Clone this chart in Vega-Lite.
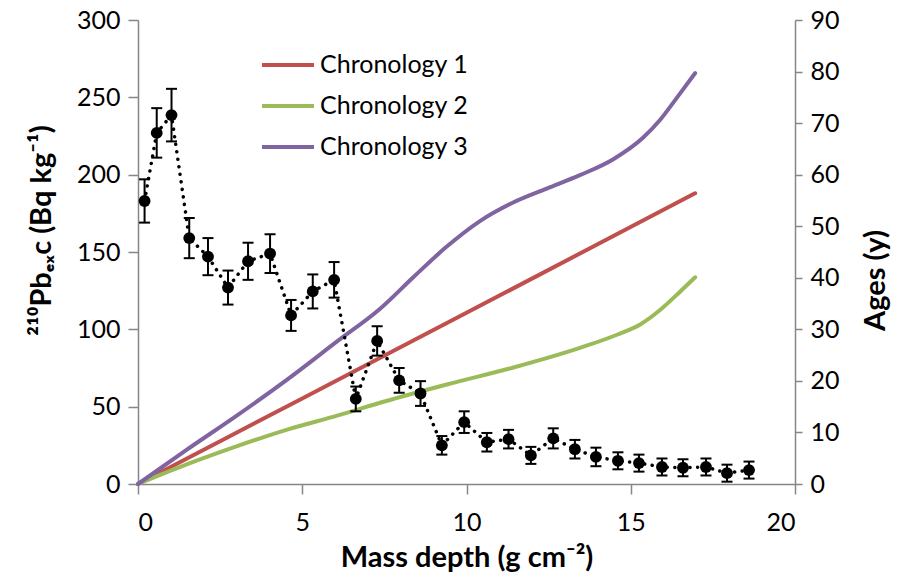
{
  "$schema": "https://vega.github.io/schema/vega-lite/v6.json",
  "width": 657,
  "height": 464,
  "autosize": {"type": "none"},
  "padding": {"left": 138, "top": 20, "right": 110, "bottom": 100},
  "background": "white",
  "config": {
    "view": {"stroke": null},
    "font": "Lato",
    "axis": {"grid": false, "domainColor": "#868686", "tickColor": "#868686", "domainWidth": 1.5, "tickWidth": 1.5, "labelColor": "black", "titleColor": "black", "labelFont": "Lato", "titleFont": "Lato", "labelFontSize": 25, "titleFontSize": 29, "titleFontWeight": "bold", "tickSize": 10}
  },
  "datasets": {
    "pb": [
      {"x": 0.2, "pb": 183, "lo": 169, "hi": 197},
      {"x": 0.57, "pb": 227, "lo": 211, "hi": 243},
      {"x": 1.02, "pb": 238.5, "lo": 221.5, "hi": 255.5},
      {"x": 1.56, "pb": 159, "lo": 146, "hi": 172},
      {"x": 2.13, "pb": 147, "lo": 135, "hi": 159},
      {"x": 2.74, "pb": 127, "lo": 116, "hi": 138},
      {"x": 3.35, "pb": 144, "lo": 132, "hi": 156},
      {"x": 4.02, "pb": 149, "lo": 136.5, "hi": 161.5},
      {"x": 4.66, "pb": 109, "lo": 99, "hi": 119},
      {"x": 5.32, "pb": 124.5, "lo": 113.5, "hi": 135.5},
      {"x": 5.97, "pb": 132, "lo": 120.5, "hi": 143.5},
      {"x": 6.63, "pb": 55, "lo": 47, "hi": 63},
      {"x": 7.28, "pb": 92.5, "lo": 83, "hi": 102},
      {"x": 7.95, "pb": 67, "lo": 59, "hi": 75},
      {"x": 8.6, "pb": 58.5, "lo": 50.5, "hi": 66.5},
      {"x": 9.25, "pb": 25, "lo": 19, "hi": 31},
      {"x": 9.93, "pb": 40, "lo": 33, "hi": 47},
      {"x": 10.62, "pb": 27, "lo": 21, "hi": 33},
      {"x": 11.28, "pb": 29, "lo": 23, "hi": 35},
      {"x": 11.96, "pb": 18.5, "lo": 13, "hi": 24},
      {"x": 12.64, "pb": 29.5, "lo": 23, "hi": 36},
      {"x": 13.3, "pb": 22.5, "lo": 16.5, "hi": 28.5},
      {"x": 13.94, "pb": 17.5, "lo": 11.5, "hi": 23.5},
      {"x": 14.61, "pb": 15, "lo": 9.5, "hi": 20.5},
      {"x": 15.25, "pb": 13.5, "lo": 8, "hi": 19},
      {"x": 15.95, "pb": 11, "lo": 5.5, "hi": 16.5},
      {"x": 16.59, "pb": 10.5, "lo": 5, "hi": 16},
      {"x": 17.29, "pb": 11, "lo": 5.5, "hi": 16.5},
      {"x": 17.93, "pb": 7, "lo": 1.5, "hi": 12.5},
      {"x": 18.6, "pb": 9, "lo": 3.5, "hi": 14.5}
    ],
    "chron": [
      {"x": 0, "age": 0, "c": "Chronology 1"},
      {"x": 5, "age": 16.6, "c": "Chronology 1"},
      {"x": 10, "age": 33.2, "c": "Chronology 1"},
      {"x": 16.96, "age": 56.4, "c": "Chronology 1"},
      {"x": 0, "age": 0, "c": "Chronology 2"},
      {"x": 1.52, "age": 3.9, "c": "Chronology 2"},
      {"x": 3.04, "age": 7.4, "c": "Chronology 2"},
      {"x": 4.57, "age": 10.6, "c": "Chronology 2"},
      {"x": 6.09, "age": 13.3, "c": "Chronology 2"},
      {"x": 7.5, "age": 16.0, "c": "Chronology 2"},
      {"x": 9.4, "age": 19.3, "c": "Chronology 2"},
      {"x": 11.43, "age": 22.6, "c": "Chronology 2"},
      {"x": 13.45, "age": 26.4, "c": "Chronology 2"},
      {"x": 14.6, "age": 29.0, "c": "Chronology 2"},
      {"x": 15.3, "age": 31.0, "c": "Chronology 2"},
      {"x": 15.9, "age": 33.8, "c": "Chronology 2"},
      {"x": 16.5, "age": 37.3, "c": "Chronology 2"},
      {"x": 16.96, "age": 40.1, "c": "Chronology 2"},
      {"x": 0, "age": 0, "c": "Chronology 3"},
      {"x": 1.52, "age": 6.8, "c": "Chronology 3"},
      {"x": 3.04, "age": 13.4, "c": "Chronology 3"},
      {"x": 4.57, "age": 20.4, "c": "Chronology 3"},
      {"x": 6.09, "age": 27.8, "c": "Chronology 3"},
      {"x": 7.37, "age": 34.0, "c": "Chronology 3"},
      {"x": 8.38, "age": 40.1, "c": "Chronology 3"},
      {"x": 9.39, "age": 46.0, "c": "Chronology 3"},
      {"x": 10.41, "age": 51.0, "c": "Chronology 3"},
      {"x": 11.42, "age": 54.6, "c": "Chronology 3"},
      {"x": 12.44, "age": 57.3, "c": "Chronology 3"},
      {"x": 13.45, "age": 59.9, "c": "Chronology 3"},
      {"x": 14.47, "age": 63.0, "c": "Chronology 3"},
      {"x": 15.38, "age": 67.2, "c": "Chronology 3"},
      {"x": 15.89, "age": 70.6, "c": "Chronology 3"},
      {"x": 16.39, "age": 74.8, "c": "Chronology 3"},
      {"x": 16.96, "age": 79.7, "c": "Chronology 3"}
    ]
  },
  "layer": [
    {
      "data": {"name": "chron"},
      "mark": {"type": "line", "strokeWidth": 4, "interpolate": "monotone", "strokeCap": "round"},
      "encoding": {
        "x": {"field": "x", "type": "quantitative", "scale": {"domain": [0, 20]}, "axis": {"values": [0, 5, 10, 15, 20], "title": "Mass depth (g cm⁻²)", "labelPadding": 16, "titlePadding": 8}},
        "y": {"field": "age", "type": "quantitative", "scale": {"domain": [0, 90]}, "axis": {"orient": "right", "values": [0, 10, 20, 30, 40, 50, 60, 70, 80, 90], "title": "Ages (y)", "titleAngle": 270, "titleBaseline": "top", "titleY": 260, "tickSize": 7, "labelPadding": 8, "titlePadding": 22}},
        "color": {"field": "c", "type": "nominal", "scale": {"domain": ["Chronology 1", "Chronology 2", "Chronology 3"], "range": ["#C0504D", "#9BBB59", "#8064A2"]}, "legend": {"title": null, "orient": "none", "legendX": 122, "legendY": 17, "symbolType": "stroke", "symbolStrokeWidth": 4, "symbolSize": 2700, "labelFontSize": 25, "labelFont": "Lato", "labelColor": "black", "labelOffset": 4, "rowPadding": -17}}
      }
    },
    {
      "data": {"name": "pb"},
      "encoding": {
        "x": {"field": "x", "type": "quantitative", "scale": {"domain": [0, 20]}, "axis": {"values": [0, 5, 10, 15, 20], "title": "Mass depth (g cm⁻²)", "labelPadding": 16, "titlePadding": 8}}
      },
      "layer": [
        {
          "mark": {"type": "line", "color": "black", "strokeWidth": 3.5, "strokeDash": [0.1, 7.5], "strokeCap": "round"},
          "encoding": {"y": {"field": "pb", "type": "quantitative", "scale": {"domain": [0, 300]}, "title": "²¹⁰Pbₑₓc (Bq kg⁻¹)", "axis": {"values": [0, 50, 100, 150, 200, 250, 300], "labelPadding": 8, "titlePadding": 20, "titleY": 210}}}
        },
        {
          "mark": {"type": "rule", "color": "black", "strokeWidth": 2},
          "encoding": {"y": {"field": "lo", "type": "quantitative", "title": "²¹⁰Pbₑₓc (Bq kg⁻¹)"}, "y2": {"field": "hi"}}
        },
        {
          "mark": {"type": "tick", "color": "black", "orient": "horizontal", "thickness": 2, "size": 11, "opacity": 1},
          "encoding": {"y": {"field": "lo", "type": "quantitative", "title": "²¹⁰Pbₑₓc (Bq kg⁻¹)"}}
        },
        {
          "mark": {"type": "tick", "color": "black", "orient": "horizontal", "thickness": 2, "size": 11, "opacity": 1},
          "encoding": {"y": {"field": "hi", "type": "quantitative", "title": "²¹⁰Pbₑₓc (Bq kg⁻¹)"}}
        },
        {
          "mark": {"type": "point", "filled": true, "color": "black", "opacity": 1, "size": 140},
          "encoding": {"y": {"field": "pb", "type": "quantitative", "title": "²¹⁰Pbₑₓc (Bq kg⁻¹)"}}
        }
      ]
    }
  ],
  "resolve": {"scale": {"y": "independent"}}
}
